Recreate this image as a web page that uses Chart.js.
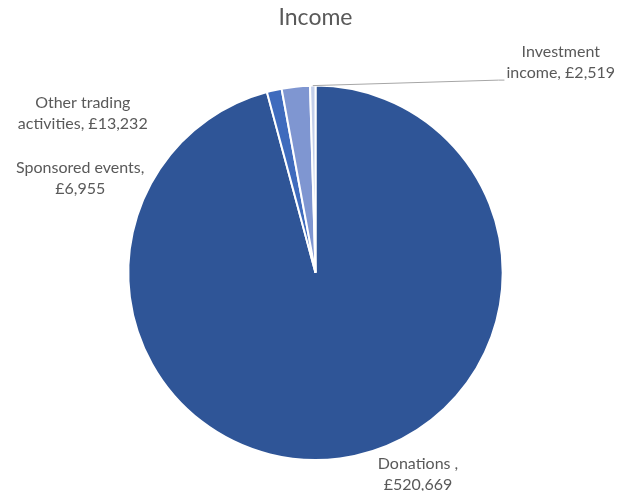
<!DOCTYPE html>
<html>
<head>
<meta charset="utf-8">
<title>Income</title>
<script src="https://cdn.jsdelivr.net/npm/chart.js@4"></script>
<style>
  html, body { margin: 0; padding: 0; background: #fff; }
  #wrap { width: 620px; height: 491px; }
</style>
</head>
<body>
<div id="wrap"><canvas id="incomeChart" width="620" height="491"></canvas></div>
<script>
// Income sources, in order round the pie from 12 o'clock clockwise
const categories = ['Donations', 'Sponsored events', 'Other trading activities', 'Investment income'];
const amounts = [520669, 6955, 13232, 2519];
const sliceColors = ['#2F5597', '#3F6BBD', '#7F96D1', '#C3CFEA'];

// label text lines for each slice
const labelLines = [
    ['Donations ,', '£520,669'],
    ['Sponsored events,', '£6,955'],
    ['Other trading', 'activities, £13,232'],
    ['Investment', 'income, £2,519']
];
// where each label's centre sits relative to the outer edge of its slice
const labelOffsets = [
    { dx: 78, dy: 16 },
    { dx: -194, dy: 88 },
    { dx: -213, dy: 27 },
    { dx: 248, dy: -23, leader: true }
];

const FONT = 'Lato, "Open Sans", sans-serif';
const TEXT_COLOR = '#595959';

const fmt = (n) => '£' + n.toLocaleString('en-GB');

// draws the data labels next to the slices, with a leader line where asked
const sliceLabelPlugin = {
    id: 'sliceLabels',
    afterDatasetsDraw(chart) {
        const { ctx } = chart;
        const meta = chart.getDatasetMeta(0);
        ctx.save();
        ctx.font = '16px ' + FONT;
        ctx.fillStyle = TEXT_COLOR;
        ctx.textAlign = 'center';
        ctx.textBaseline = 'middle';
        const lineH = 21;
        meta.data.forEach((arc, i) => {
            const { x, y, startAngle, endAngle, outerRadius } = arc.getProps(['x', 'y', 'startAngle', 'endAngle', 'outerRadius'], true);
            const mid = (startAngle + endAngle) / 2;
            const ax = x + Math.cos(mid) * outerRadius;
            const ay = y + Math.sin(mid) * outerRadius;
            const off = labelOffsets[i];
            const cx = ax + off.dx;
            const cy = ay + off.dy;
            const lines = labelLines[i];
            if (off.leader) {
                const w = Math.max(...lines.map(l => ctx.measureText(l).width));
                const endX = cx - w / 2 - 2;
                const endY = cy + lineH / 2 + 7;
                ctx.strokeStyle = '#A6A6A6';
                ctx.lineWidth = 1;
                ctx.beginPath();
                ctx.moveTo(ax, ay);
                ctx.lineTo(endX - 6, endY);
                ctx.lineTo(endX, endY);
                ctx.stroke();
            }
            lines.forEach((l, k) => {
                ctx.fillText(l, cx, cy + (k - (lines.length - 1) / 2) * lineH);
            });
        });
        ctx.restore();
    }
};

new Chart(document.getElementById('incomeChart'), {
    type: 'pie',
    data: {
        labels: categories,
        datasets: [{
            data: amounts,
            backgroundColor: sliceColors,
            borderColor: '#fff',
            borderWidth: 2
        }]
    },
    options: {
        responsive: false,
        animation: false,
        layout: { padding: { top: 4, bottom: 30, left: 11, right: 0 } },
        plugins: {
            legend: { display: false },
            tooltip: { callbacks: { label: (c) => `${c.label}: ${fmt(c.raw)}` } },
            title: {
                display: true,
                text: 'Income',
                color: TEXT_COLOR,
                font: { family: FONT, size: 23, weight: 'normal' },
                padding: { top: 0, bottom: 53 }
            }
        }
    },
    plugins: [sliceLabelPlugin]
});
</script>
</body>
</html>
